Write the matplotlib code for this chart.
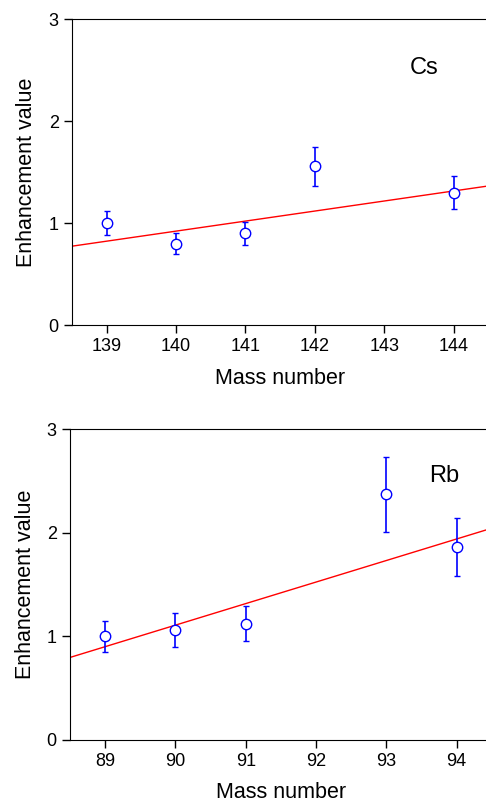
import matplotlib
matplotlib.use('Agg')
import matplotlib.pyplot as plt

plt.rcParams['font.family'] = ['Liberation Sans', 'DejaVu Sans']

# Cs panel
cs_mass = [139, 140, 141, 142, 144]
cs_value = [1.00, 0.80, 0.90, 1.56, 1.30]
cs_err = [0.12, 0.10, 0.11, 0.19, 0.16]
cs_fit_x = [138.5, 144.5]
cs_fit_y = [0.775, 1.366]
cs_ticks = [139, 140, 141, 142, 143, 144]

# Rb panel
rb_mass = [89, 90, 91, 93, 94]
rb_value = [1.00, 1.06, 1.12, 2.37, 1.86]
rb_err = [0.15, 0.16, 0.17, 0.36, 0.28]
rb_fit_x = [88.5, 94.5]
rb_fit_y = [0.795, 2.043]
rb_ticks = [89, 90, 91, 92, 93, 94]


def draw_panel(ax, mass, value, err, fit_x, fit_y, ticks, xlim, name, name_pos):
    ax.plot(fit_x, fit_y, color='#ff0000', lw=1.0, zorder=2)
    ax.errorbar(mass, value, yerr=err, fmt='o', ms=7.5, mfc='white',
                mec='#0000ff', mew=1.0, ecolor='#0000ff', elinewidth=1.2,
                capsize=2.3, capthick=1.2, zorder=3)
    ax.set_xlim(*xlim)
    ax.set_ylim(0, 3)
    ax.set_xticks(ticks)
    ax.set_yticks([0, 1, 2, 3])
    ax.spines['right'].set_visible(False)
    ax.tick_params(direction='out', length=6, width=1, labelsize=13, top=False, right=False)
    ax.set_xlabel('Mass number', fontsize=15.5, labelpad=9)
    ax.set_ylabel('Enhancement value', fontsize=15.5, labelpad=8)
    ax.text(name_pos[0], name_pos[1], name, fontsize=17, ha='center', va='center')


fig = plt.figure(figsize=(4.86, 8.05), dpi=100)
ax1 = fig.add_axes([0.148, 0.596, 0.857, 0.380])
ax2 = fig.add_axes([0.144, 0.081, 0.868, 0.386])

draw_panel(ax1, cs_mass, cs_value, cs_err, cs_fit_x, cs_fit_y, cs_ticks,
           (138.5, 144.5), 'Cs', (143.57, 2.52))
draw_panel(ax2, rb_mass, rb_value, rb_err, rb_fit_x, rb_fit_y, rb_ticks,
           (88.5, 94.5), 'Rb', (93.82, 2.55))

fig.savefig('out.png', dpi=100)
